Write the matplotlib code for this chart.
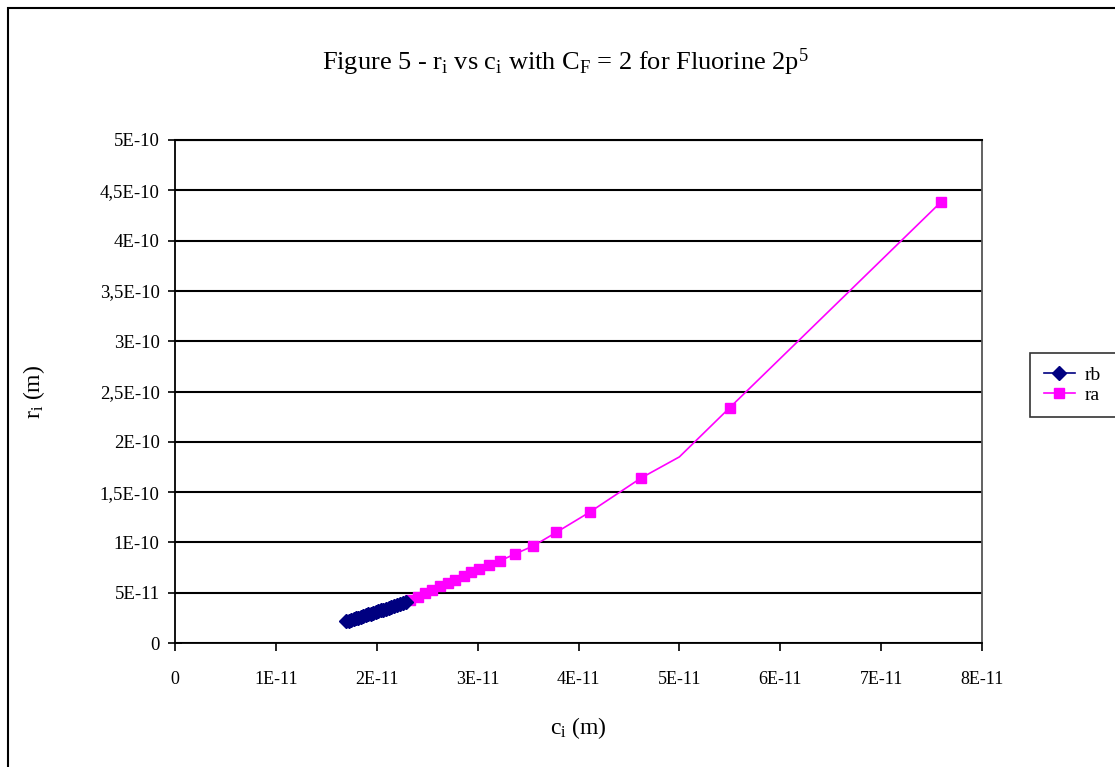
import numpy as np
import matplotlib
matplotlib.use('Agg')
import matplotlib.pyplot as plt
from matplotlib.patches import Rectangle
from matplotlib.ticker import FixedLocator

plt.rcParams['font.family'] = ['Liberation Serif', 'DejaVu Serif']
plt.rcParams['mathtext.fontset'] = 'custom'
plt.rcParams['mathtext.rm'] = 'Liberation Serif'
plt.rcParams['mathtext.it'] = 'Liberation Serif'

# data (c_i in 1E-11 m, r_i in 1E-10 m)
rb_c = [1.70, 1.72, 1.74, 1.77, 1.79, 1.81, 1.84, 1.86, 1.89, 1.91, 1.94, 1.96,
        1.99, 2.01, 2.04, 2.06, 2.09, 2.12, 2.14, 2.17, 2.20, 2.23, 2.26, 2.29]
rb_r = [0.215, 0.222, 0.229, 0.237, 0.245, 0.252, 0.261, 0.268, 0.277, 0.284, 0.293, 0.300,
        0.309, 0.316, 0.325, 0.333, 0.342, 0.352, 0.359, 0.369, 0.379, 0.389, 0.400, 0.410]

ra_c = [2.33, 2.41, 2.48, 2.55, 2.63, 2.71, 2.78, 2.86, 2.93, 3.01, 3.11, 3.22,
        3.37, 3.55, 3.78, 4.11, 4.62, 5.00, 5.50, 7.59]
ra_r = [0.427, 0.457, 0.497, 0.527, 0.567, 0.596, 0.626, 0.666, 0.706, 0.736, 0.775, 0.815,
        0.885, 0.964, 1.10, 1.30, 1.64, 1.85, 2.34, 4.38]
ra_unmarked = [17]

x_ticks = [0, 1e-11, 2e-11, 3e-11, 4e-11, 5e-11, 6e-11, 7e-11, 8e-11]
x_labels = ['0', '1E-11', '2E-11', '3E-11', '4E-11', '5E-11', '6E-11', '7E-11', '8E-11']
y_ticks = [0, 5e-11, 1e-10, 1.5e-10, 2e-10, 2.5e-10, 3e-10, 3.5e-10, 4e-10, 4.5e-10, 5e-10]
y_labels = ['0', '5E-11', '1E-10', '1,5E-10', '2E-10', '2,5E-10', '3E-10', '3,5E-10',
            '4E-10', '4,5E-10', '5E-10']

fig = plt.figure(figsize=(11.15, 7.67), dpi=100)
fig.patches.append(Rectangle((8 / 1115, -0.1), 1.2, 1.1 - 8 / 767, transform=fig.transFigure,
                             fill=False, edgecolor='black', linewidth=1.5))

ax = fig.add_axes([175 / 1115, 1 - 643 / 767, (982 - 175) / 1115, (643 - 140) / 767])

xb = np.array(rb_c) * 1e-11
yb = np.array(rb_r) * 1e-10
xa = np.array(ra_c) * 1e-11
ya = np.array(ra_r) * 1e-10
marks = [i for i in range(len(ra_c)) if i not in ra_unmarked]

ax.plot(xb, yb, color='#000080', marker='D', markersize=7, linewidth=1.2, label='rb', zorder=4)
ax.plot(xa, ya, color='#FF00FF', marker='s', markersize=7, linewidth=1.2, label='ra',
        markevery=marks, zorder=3)

ax.set_xlim(0, 8e-11)
ax.set_ylim(0, 5e-10)
ax.xaxis.set_major_locator(FixedLocator(x_ticks))
ax.yaxis.set_major_locator(FixedLocator(y_ticks))
ax.set_xticklabels(x_labels, fontsize=13)
ax.set_yticklabels(y_labels, fontsize=13.5)
ax.tick_params(axis='x', direction='out', length=6, width=1.2, pad=14)
ax.tick_params(axis='y', direction='inout', length=10, width=1.2, pad=6)
ax.yaxis.grid(True, color='black', linewidth=1.5)
ax.set_axisbelow(True)
for s in ax.spines.values():
    s.set_linewidth(1.3)
ax.spines['top'].set_linewidth(1.5)
ax.spines['right'].set_color('#555555')

ax.set_xlabel(r'c$_\mathregular{i}$ (m)', fontsize=17, labelpad=20)
ax.set_ylabel(r'r$_\mathregular{i}$ (m)', fontsize=17, labelpad=38)
fig.text(0.507, 1 - 62 / 767, r'Figure 5 - r$_\mathregular{i}$ vs c$_\mathregular{i}$ with C$_\mathregular{F}$ = 2 for Fluorine 2p$^\mathregular{5}$',
         ha='center', va='center', fontsize=19)

leg = fig.legend(loc='upper left', bbox_to_anchor=(1030 / 1115, 1 - 353 / 767, 0.1, 0),
                 mode='expand', fontsize=14,
                 frameon=True, fancybox=False, edgecolor='black', borderpad=0.7,
                 handlelength=1.6, handletextpad=0.5, labelspacing=0.1, borderaxespad=0)
leg.get_frame().set_linewidth(1.2)

fig.savefig('out.png', dpi=100)
